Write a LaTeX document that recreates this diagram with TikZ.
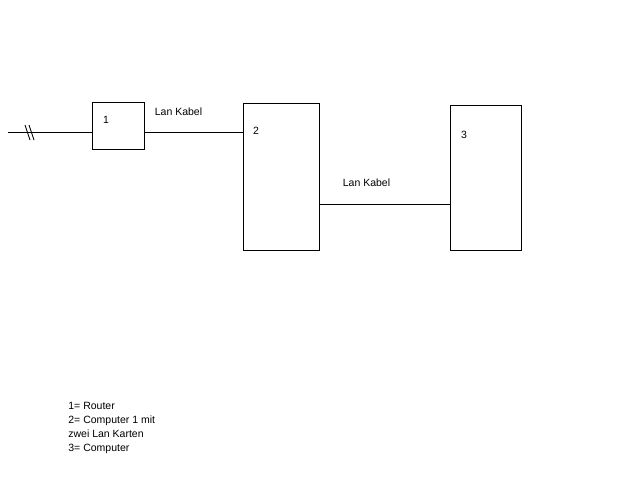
\documentclass[tikz,border=0pt]{standalone}
\usepackage{fontspec}
\setmainfont{Liberation Sans}
\tikzset{box/.style={draw, line width=0.8pt, inner sep=0pt},
 txt/.style={font=\fontsize{10.5}{14}\selectfont, inner sep=0pt}}
\begin{document}
\begin{tikzpicture}[x=1pt, y=-1pt, line width=0.8pt]
\useasboundingbox (0,0) rectangle (642,488);
\node[box, minimum width=52pt, minimum height=47pt] (router) at (118,125.5){};
\node[box, minimum width=76pt, minimum height=147pt] (pc1) at (281,176.5){};
\node[box, minimum width=71pt, minimum height=145pt] (pc2) at (485.5,177.5){};
\coordinate (wan) at (8,132);
\draw (wan)--(wan -| router.west);
\draw (25,125)--(30,140);
\draw (29,125)--(34,140);
\draw (router.east |- wan)--(pc1.west |- wan);
\draw (pc1.east |- 0,204)--(pc2.west |- 0,204);
\node[txt] (n1) at (106,120){1};
\node[txt] (n2) at (256,131){2};
\node[txt] (n3) at (464,135){3};
\node[txt] (kabel1) at (178.5,112){Lan Kabel};
\node[txt] (kabel2) at (366.5,183){Lan Kabel};
\node[txt, anchor=north west, align=left] (legende) at (68,402)
 {1= Router\\2= Computer 1 mit\\zwei Lan Karten\\3= Computer};
\end{tikzpicture}
\end{document}
